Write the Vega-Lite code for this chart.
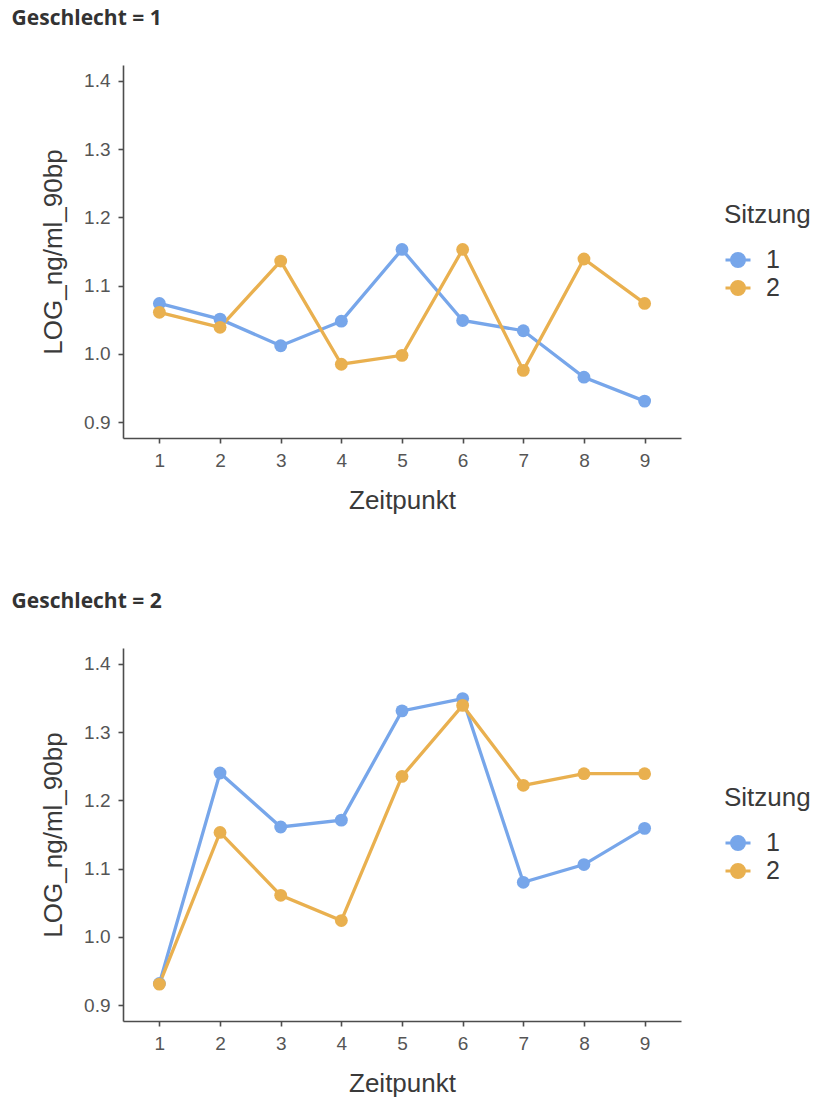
{
  "$schema": "https://vega.github.io/schema/vega-lite/v6.json",
  "background": "white",
  "padding": {"left": 11, "top": 8, "right": 5, "bottom": 5},
  "config": {
    "view": {"stroke": null},
    "font": "Liberation Sans",
    "axis": {"grid": false, "domainColor": "#4d4d4d", "domainWidth": 1.6, "tickColor": "#4d4d4d", "tickWidth": 1.6, "tickSize": 5, "labelFont": "Liberation Sans", "labelFontSize": 19, "labelColor": "#555555", "titleFont": "Liberation Sans", "titleFontSize": 26, "titleFontWeight": "normal", "titleColor": "#3a3a3a", "labelPadding": 8},
    "title": {"font": "Open Sans", "fontSize": 21, "fontWeight": "bold", "anchor": "start", "color": "#333333"},
    "legend": {"orient": "none", "legendX": 601, "legendY": 137, "titleFont": "Liberation Sans", "titleFontSize": 26, "titleFontWeight": "normal", "titleColor": "#3a3a3a", "labelFont": "Liberation Sans", "labelFontSize": 25, "labelColor": "#3a3a3a", "symbolType": "M-1,0L1,0M-0.52,0a0.52,0.52 0 1,0 1.04,0a0.52,0.52 0 1,0 -1.04,0Z", "symbolSize": 625, "symbolStrokeWidth": 3, "rowPadding": 1, "titlePadding": 18, "labelOffset": 14}
  },
  "data": {"values": [
    {"Geschlecht": 1, "Sitzung": "1", "Zeitpunkt": 1, "value": 1.074},
    {"Geschlecht": 1, "Sitzung": "1", "Zeitpunkt": 2, "value": 1.051},
    {"Geschlecht": 1, "Sitzung": "1", "Zeitpunkt": 3, "value": 1.012},
    {"Geschlecht": 1, "Sitzung": "1", "Zeitpunkt": 4, "value": 1.048},
    {"Geschlecht": 1, "Sitzung": "1", "Zeitpunkt": 5, "value": 1.153},
    {"Geschlecht": 1, "Sitzung": "1", "Zeitpunkt": 6, "value": 1.049},
    {"Geschlecht": 1, "Sitzung": "1", "Zeitpunkt": 7, "value": 1.034},
    {"Geschlecht": 1, "Sitzung": "1", "Zeitpunkt": 8, "value": 0.966},
    {"Geschlecht": 1, "Sitzung": "1", "Zeitpunkt": 9, "value": 0.931},
    {"Geschlecht": 1, "Sitzung": "2", "Zeitpunkt": 1, "value": 1.061},
    {"Geschlecht": 1, "Sitzung": "2", "Zeitpunkt": 2, "value": 1.039},
    {"Geschlecht": 1, "Sitzung": "2", "Zeitpunkt": 3, "value": 1.136},
    {"Geschlecht": 1, "Sitzung": "2", "Zeitpunkt": 4, "value": 0.985},
    {"Geschlecht": 1, "Sitzung": "2", "Zeitpunkt": 5, "value": 0.998},
    {"Geschlecht": 1, "Sitzung": "2", "Zeitpunkt": 6, "value": 1.153},
    {"Geschlecht": 1, "Sitzung": "2", "Zeitpunkt": 7, "value": 0.976},
    {"Geschlecht": 1, "Sitzung": "2", "Zeitpunkt": 8, "value": 1.139},
    {"Geschlecht": 1, "Sitzung": "2", "Zeitpunkt": 9, "value": 1.074},
    {"Geschlecht": 2, "Sitzung": "1", "Zeitpunkt": 1, "value": 0.932},
    {"Geschlecht": 2, "Sitzung": "1", "Zeitpunkt": 2, "value": 1.240},
    {"Geschlecht": 2, "Sitzung": "1", "Zeitpunkt": 3, "value": 1.161},
    {"Geschlecht": 2, "Sitzung": "1", "Zeitpunkt": 4, "value": 1.171},
    {"Geschlecht": 2, "Sitzung": "1", "Zeitpunkt": 5, "value": 1.331},
    {"Geschlecht": 2, "Sitzung": "1", "Zeitpunkt": 6, "value": 1.349},
    {"Geschlecht": 2, "Sitzung": "1", "Zeitpunkt": 7, "value": 1.080},
    {"Geschlecht": 2, "Sitzung": "1", "Zeitpunkt": 8, "value": 1.106},
    {"Geschlecht": 2, "Sitzung": "1", "Zeitpunkt": 9, "value": 1.159},
    {"Geschlecht": 2, "Sitzung": "2", "Zeitpunkt": 1, "value": 0.931},
    {"Geschlecht": 2, "Sitzung": "2", "Zeitpunkt": 2, "value": 1.153},
    {"Geschlecht": 2, "Sitzung": "2", "Zeitpunkt": 3, "value": 1.061},
    {"Geschlecht": 2, "Sitzung": "2", "Zeitpunkt": 4, "value": 1.024},
    {"Geschlecht": 2, "Sitzung": "2", "Zeitpunkt": 5, "value": 1.235},
    {"Geschlecht": 2, "Sitzung": "2", "Zeitpunkt": 6, "value": 1.339},
    {"Geschlecht": 2, "Sitzung": "2", "Zeitpunkt": 7, "value": 1.222},
    {"Geschlecht": 2, "Sitzung": "2", "Zeitpunkt": 8, "value": 1.239},
    {"Geschlecht": 2, "Sitzung": "2", "Zeitpunkt": 9, "value": 1.239}
  ]},
  "spacing": 78,
  "resolve": {"scale": {"color": "independent"}, "legend": {"color": "independent"}},
  "vconcat": [
    {
      "width": 558, "height": 373,
      "title": {"text": "Geschlecht = 1", "dx": -29, "offset": 36},
      "transform": [{"filter": "datum.Geschlecht == 1"}],
      "encoding": {
        "x": {"field": "Zeitpunkt", "type": "quantitative", "scale": {"domain": [0.4, 9.6], "nice": false, "zero": false}, "axis": {"values": [1,2,3,4,5,6,7,8,9], "format": "d", "title": "Zeitpunkt", "titlePadding": 17}},
        "y": {"field": "value", "type": "quantitative", "scale": {"domain": [0.877, 1.423], "nice": false, "zero": false}, "axis": {"values": [0.9,1.0,1.1,1.2,1.3,1.4], "format": ".1f", "title": "LOG_ng/ml_90bp", "titlePadding": 17}},
        "color": {"field": "Sitzung", "type": "nominal", "title": "Sitzung", "scale": {"domain": ["1","2"], "range": ["#77A6EA", "#E9B04F"]}}
      },
      "layer": [
        {"mark": {"type": "line", "strokeWidth": 3.3}},
        {"mark": {"type": "point", "filled": true, "size": 165, "opacity": 1}}
      ]
    },
    {
      "width": 558, "height": 373,
      "title": {"text": "Geschlecht = 2", "dx": -29, "offset": 36},
      "transform": [{"filter": "datum.Geschlecht == 2"}],
      "encoding": {
        "x": {"field": "Zeitpunkt", "type": "quantitative", "scale": {"domain": [0.4, 9.6], "nice": false, "zero": false}, "axis": {"values": [1,2,3,4,5,6,7,8,9], "format": "d", "title": "Zeitpunkt", "titlePadding": 17}},
        "y": {"field": "value", "type": "quantitative", "scale": {"domain": [0.877, 1.423], "nice": false, "zero": false}, "axis": {"values": [0.9,1.0,1.1,1.2,1.3,1.4], "format": ".1f", "title": "LOG_ng/ml_90bp", "titlePadding": 17}},
        "color": {"field": "Sitzung", "type": "nominal", "title": "Sitzung", "scale": {"domain": ["1","2"], "range": ["#77A6EA", "#E9B04F"]}}
      },
      "layer": [
        {"mark": {"type": "line", "strokeWidth": 3.3}},
        {"mark": {"type": "point", "filled": true, "size": 165, "opacity": 1}}
      ]
    }
  ]
}
